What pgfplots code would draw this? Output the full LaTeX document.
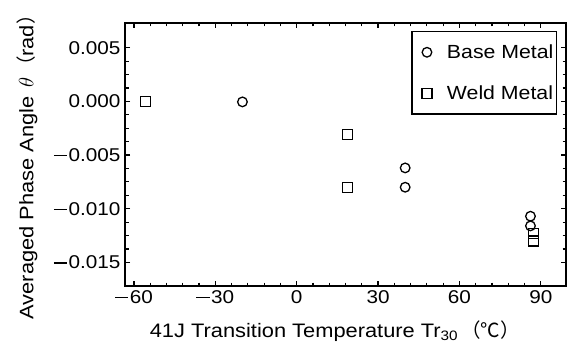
\documentclass[border=0pt]{standalone}
\usepackage{fontspec}
\setmainfont{Liberation Sans}[FakeStretch=1.12]
\newfontfamily\cjk{Noto Sans CJK JP}
\usepackage{pgfplots}
\pgfplotsset{compat=1.18}
\newcommand\mn{\raisebox{0.27em}{\rule{0.72em}{0.075em}}\hspace{0.08em}}
\begin{document}
\begin{tikzpicture}
\begin{axis}[
  scale only axis,
  width=441pt, height=263pt,
  xmin=-63.3, xmax=99.3,
  ymin=-0.0172, ymax=0.0073,
  scaled y ticks=false,
  axis line style={line width=1.6pt},
  xtick={-60,-30,0,30,60,90},
  xticklabels={\mn60,\mn30,0,30,60,90},
  ytick={-0.015,-0.01,-0.005,0,0.005},
  yticklabels={\mn0.015,\mn0.010,\mn0.005,0.000,0.005},
  minor x tick num=4,
  minor y tick num=3,
  major tick length=-5pt, minor tick length=-3.5pt,
  major tick style={line width=1.2pt, black},
  minor tick style={line width=1.2pt, black},
  tick align=outside,
  ticklabel style={font=\fontsize{18.5}{20}\selectfont},
  xticklabel style={yshift=-6pt},
  yticklabel style={xshift=-6pt},
  xlabel={41J Transition Temperature Tr\textsubscript{30}\,{\cjk （℃）}},
  ylabel={Averaged Phase Angle\ \,$\theta$\hspace{1pt}{\cjk （}rad{\cjk ）}},
  every axis x label/.style={at={(axis description cs:0.476,-0.171)}, anchor=center, font=\fontsize{19.5}{21}\selectfont},
  every axis y label/.style={at={(axis description cs:-0.222,0.47)}, anchor=center, rotate=90, font=\fontsize{19.5}{21}\selectfont},
  legend style={at={(axis description cs:0.98,0.97)}, anchor=north east,
    draw=black, line width=1.5pt, font=\fontsize{19}{20}\selectfont,
    inner xsep=10pt, inner ysep=11pt, row sep=22pt, fill=white,
    /tikz/every odd column/.append style={column sep=13pt}},
  legend cell align=left,
]
\addplot[only marks, mark=o, mark size=4.8pt, line width=1.3pt, black]
  coordinates {(-20,-0.00005) (40,-0.0062) (40,-0.0080) (86.2,-0.0107) (86.2,-0.0116)};
\addlegendentry{Base Metal\hspace*{-9pt}}
\addplot[only marks, mark=square, mark size=5.0pt, line width=1.3pt, black]
  coordinates {(-55.7,0) (18.8,-0.0031) (18.8,-0.0080) (87.2,-0.0123) (87.2,-0.0130)};
\addlegendentry{Weld Metal\hspace*{-9pt}}
\end{axis}
\pgfresetboundingbox
\path (current axis.south west) ++(-125pt,-61pt) coordinate (bbA);
\path (current axis.north east) ++(3pt,23pt) coordinate (bbB);
\useasboundingbox (bbA) rectangle (bbB);
\end{tikzpicture}
\end{document}
